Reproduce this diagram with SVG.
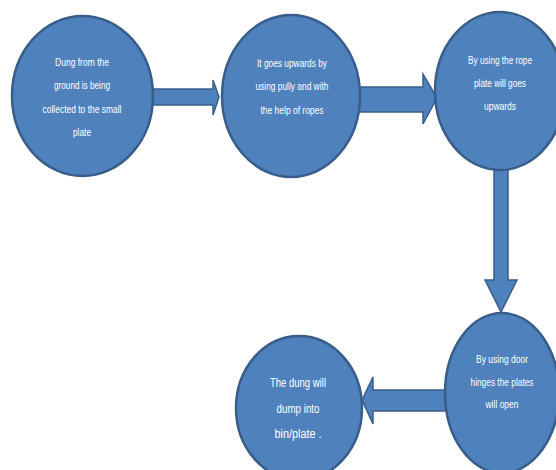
<svg xmlns="http://www.w3.org/2000/svg" width="556" height="470" viewBox="0 0 556 470">
<style>
.node{fill:#4F81BD;stroke:#385D8A;stroke-width:2.5}
.arrow{fill:#4F81BD;stroke:#385D8A;stroke-width:1.5;stroke-linejoin:miter}
.t{fill:#FFFFFF;font-family:"Liberation Sans Narrow","Liberation Sans",Arial,sans-serif;font-size:11px;text-anchor:middle}
.t2{font-size:12.5px}
</style>
<rect width="556" height="470" fill="#FFFFFF"/>
<g id="connectors">
<path class="arrow" d="M150,89 L213,89 L213,80 L219,97 L213,115 L213,105 L150,105 Z"/>
<path class="arrow" d="M359,87 L423,87 L423,74 L437,98 L423,124 L423,112 L359,112 Z"/>
<path class="arrow" d="M494,168 L494,280 L485,280 L501,312 L517,280 L508,280 L508,168 Z"/>
<path class="arrow" d="M446,390 L373,390 L373,377 L362,400 L373,424 L373,411 L446,411 Z"/>
</g>
<g id="node1">
<ellipse class="node" cx="82.5" cy="96" rx="70.5" ry="80"/>
<text class="t" x="82" y="66" textLength="54" lengthAdjust="spacingAndGlyphs">Dung from the</text>
<text class="t" x="82" y="89" textLength="56" lengthAdjust="spacingAndGlyphs">ground is being</text>
<text class="t" x="82" y="113" textLength="79" lengthAdjust="spacingAndGlyphs">collected to the small</text>
<text class="t" x="82" y="136" textLength="18" lengthAdjust="spacingAndGlyphs">plate</text>
</g>
<g id="node2">
<ellipse class="node" cx="291" cy="96" rx="69" ry="81"/>
<text class="t" x="292" y="67" textLength="70" lengthAdjust="spacingAndGlyphs">It goes upwards by</text>
<text class="t" x="292" y="90" textLength="73" lengthAdjust="spacingAndGlyphs">using pully and with</text>
<text class="t" x="292" y="114" textLength="63" lengthAdjust="spacingAndGlyphs">the help of ropes</text>
</g>
<g id="node3">
<ellipse class="node" cx="500" cy="91" rx="65" ry="79"/>
<text class="t" x="500" y="64" textLength="64" lengthAdjust="spacingAndGlyphs">By using the rope</text>
<text class="t" x="500" y="87" textLength="52" lengthAdjust="spacingAndGlyphs">plate will goes</text>
<text class="t" x="500" y="110" textLength="32" lengthAdjust="spacingAndGlyphs">upwards</text>
</g>
<g id="node4">
<ellipse class="node" cx="502" cy="393" rx="57" ry="80"/>
<text class="t" x="502" y="363" textLength="52" lengthAdjust="spacingAndGlyphs">By using door</text>
<text class="t" x="502" y="386" textLength="63" lengthAdjust="spacingAndGlyphs">hinges the plates</text>
<text class="t" x="502" y="408" textLength="33" lengthAdjust="spacingAndGlyphs">will open</text>
</g>
<g id="node5">
<ellipse class="node" cx="299" cy="408" rx="63" ry="72"/>
<text class="t t2" x="298" y="387" textLength="56" lengthAdjust="spacingAndGlyphs">The dung will</text>
<text class="t t2" x="298" y="413" textLength="43" lengthAdjust="spacingAndGlyphs">dump into</text>
<text class="t t2" x="298" y="438" textLength="47" lengthAdjust="spacingAndGlyphs">bin/plate .</text>
</g>
</svg>
